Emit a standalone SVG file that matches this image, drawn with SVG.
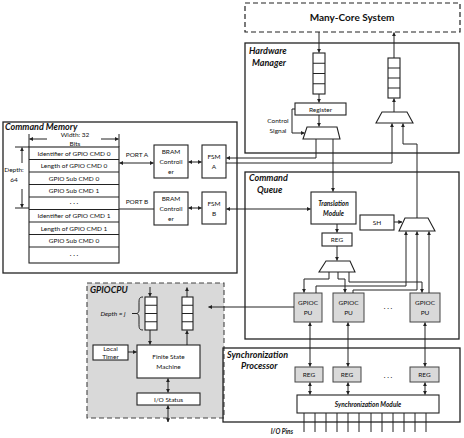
<svg xmlns="http://www.w3.org/2000/svg" width="464" height="438" viewBox="0 0 464 438">
<style>
text{font-family:Lato,"Liberation Sans",sans-serif;fill:#111;text-anchor:middle}
.t{font-size:6.5px}
.tb{font-size:10px;font-weight:bold}
.ti{font-size:9px;font-weight:bold;font-style:italic;text-anchor:start}
.tm{font-size:6.5px;font-weight:bold;font-style:italic}
.box{fill:#fff;stroke:#222;stroke-width:1.1}
.gb{fill:#d9d9d9;stroke:#444;stroke-width:1}
.frame{fill:none;stroke:#222;stroke-width:1.3}
.dash{fill:#fff;stroke:#222;stroke-width:1.2;stroke-dasharray:5,3}
.c{fill:none;stroke:#222;stroke-width:1}
.e{marker-end:url(#ah)}
.b{marker-end:url(#ah);marker-start:url(#ah)}
</style>
<defs>
<marker id="ah" viewBox="0 0 6 6" refX="5.5" refY="3" markerWidth="4" markerHeight="4" orient="auto-start-reverse" markerUnits="userSpaceOnUse"><path d="M0,0 L6,3 L0,6 z" fill="#222"/></marker>
</defs>

<g id="many-core"><rect x="245" y="3" width="215" height="29" class="dash"/><text x="352" y="21" class="tb">Many-Core System</text></g>

<g id="hardware-manager"><rect x="245" y="43" width="214" height="110" class="frame"/><text x="249" y="54" class="ti">Hardware</text><text x="252" y="66" class="ti">Manager</text></g>
<g id="hm-queue-in"><rect x="313" y="53" width="12" height="41" class="box"/><path d="M313,63.25H325M313,73.5H325M313,83.75H325" class="c"/></g>
<g id="hm-queue-out"><rect x="388" y="58" width="12" height="40" class="box"/><path d="M388,68H400M388,78H400M388,88H400" class="c"/></g>
<g id="register"><rect x="295" y="103" width="51" height="12" class="box"/><text x="320.5" y="111.5" class="t">Register</text></g>
<g id="hm-mux-left"><polygon points="307,127 337,127 340,139 303,139" class="box"/></g>
<g id="hm-mux-right"><polygon points="382,112 407,112 413,123 376,123" class="box"/></g>
<g id="control-signal"><text x="278" y="123" class="t">Control</text><text x="278" y="133" class="t">Signal</text></g>

<g id="command-memory"><rect x="3" y="122" width="234" height="151" class="frame"/><text x="5" y="130" class="ti">Command Memory</text></g>
<g id="memory-table">
<rect x="29" y="147" width="90" height="116" class="box"/>
<path d="M29,159.5H119M29,172H119M29,184.5H119M29,197H119M29,209.5H119M29,222H119M29,234.5H119M29,247H119" class="c"/>
<text x="74" y="155.5" class="t">Identifier of GPIO CMD 0</text>
<text x="74" y="168" class="t">Length of GPIO CMD 0</text>
<text x="74" y="180.5" class="t">GPIO Sub CMD 0</text>
<text x="74" y="193" class="t">GPIO Sub CMD 1</text>
<text x="74" y="205" class="t">· · ·</text>
<text x="74" y="218" class="t">Identifier of GPIO CMD 1</text>
<text x="74" y="230.5" class="t">Length of GPIO CMD 1</text>
<text x="74" y="243" class="t">GPIO Sub CMD 0</text>
<text x="74" y="257" class="t">· · ·</text>
</g>
<g id="width-label"><path d="M29,134V147M119,134V147" class="c"/><path d="M47,139H29.5" class="c e"/><path d="M101,139H118.5" class="c e"/><text x="75" y="137" class="t">Width: 32</text><text x="75" y="145.5" class="t">Bits</text></g>
<g id="depth-label"><path d="M15,147H29M15,208H29" class="c"/><path d="M22,163V147.5" class="c e"/><path d="M22,189V207.5" class="c e"/><text x="14" y="172" class="t">Depth:</text><text x="14" y="182" class="t">64</text></g>
<g id="bram-a"><rect x="154" y="145" width="34" height="33" class="box"/><text x="171" y="154" class="t">BRAM</text><text x="171" y="164" class="t">Controll</text><text x="171" y="174" class="t">er</text></g>
<g id="fsm-a"><rect x="202" y="145" width="24" height="33" class="box"/><text x="214" y="159" class="t">FSM</text><text x="214" y="169" class="t">A</text></g>
<g id="bram-b"><rect x="154" y="192" width="34" height="33" class="box"/><text x="171" y="201" class="t">BRAM</text><text x="171" y="211" class="t">Controll</text><text x="171" y="221" class="t">er</text></g>
<g id="fsm-b"><rect x="202" y="192" width="24" height="32" class="box"/><text x="214" y="206" class="t">FSM</text><text x="214" y="216" class="t">B</text></g>
<g id="port-labels"><text x="137" y="157" class="t">PORT A</text><text x="137" y="204" class="t">PORT B</text></g>

<g id="command-queue"><rect x="245" y="172" width="214" height="167" class="frame"/><text x="249" y="181" class="ti">Command</text><text x="257" y="193" class="ti">Queue</text></g>
<g id="translation-module"><rect x="311" y="192" width="45" height="32" class="box"/><text x="333.5" y="206" class="tm">Translation</text><text x="333.5" y="216" class="tm">Module</text></g>
<g id="reg-cq"><rect x="322" y="233" width="30" height="13" class="box"/><text x="337" y="242" class="t">REG</text></g>
<g id="sh"><rect x="360" y="215" width="34" height="15" class="box"/><text x="377" y="225" class="t">SH</text></g>
<g id="cq-mux-center"><polygon points="326,261 350,261 355,272 319,272" class="box"/></g>
<g id="cq-mux-right"><polygon points="405,218 428,218 435,231 399,231" class="box"/></g>
<g id="gpioc-pu-1"><rect x="294" y="293" width="28" height="29" class="gb"/><text x="308" y="305" class="t">GPIOC</text><text x="308" y="315" class="t">PU</text></g>
<g id="gpioc-pu-2"><rect x="333" y="293" width="31" height="29" class="gb"/><text x="348.5" y="305" class="t">GPIOC</text><text x="348.5" y="315" class="t">PU</text></g>
<g id="gpioc-pu-3"><rect x="410" y="293" width="30" height="29" class="gb"/><text x="425" y="305" class="t">GPIOC</text><text x="425" y="315" class="t">PU</text></g>
<text x="388" y="310" class="t">· · ·</text>

<g id="gpiocpu"><rect x="87" y="283" width="137" height="135" fill="#d9d9d9" stroke="#444" stroke-width="1.1" stroke-dasharray="5,3"/><text x="90" y="293" class="ti">GPIOCPU</text></g>
<g id="gpiocpu-queue-in"><rect x="145" y="297" width="12" height="33" class="box"/><path d="M145,305.25H157M145,313.5H157M145,321.75H157" class="c"/></g>
<g id="gpiocpu-queue-out"><rect x="182" y="297" width="11" height="33" class="box"/><path d="M182,305.25H193M182,313.5H193M182,321.75H193" class="c"/></g>
<g id="depth-j"><path d="M143,297C139,297 139,299 139,304V310C139,312 138,313 137,313.5C138,314 139,315 139,317V323C139,328 139,330 143,330" class="c"/><path d="M132,313.5H137" class="c"/><text x="113" y="316" class="t" font-style="italic">Depth = j</text></g>
<g id="local-timer"><rect x="93" y="345" width="35" height="15" class="box"/><text x="110.5" y="351" class="t">Local</text><text x="110.5" y="359" class="t">Timer</text></g>
<g id="finite-state-machine"><rect x="137" y="345" width="63" height="33" class="box"/><text x="168.5" y="359" class="t">Finite State</text><text x="168.5" y="369" class="t">Machine</text></g>
<g id="io-status"><rect x="137" y="393" width="63" height="12" class="box"/><text x="168.5" y="401.5" class="t">I/O Status</text></g>

<g id="sync-processor"><rect x="223" y="348" width="237" height="74" class="frame"/><text x="227" y="358" class="ti" font-size="8.5">Synchronization</text><text x="241" y="369" class="ti" font-size="8.5">Processor</text></g>
<g id="reg-sp-1"><rect x="295" y="367" width="28" height="15" class="gb"/><text x="309" y="377" class="t">REG</text></g>
<g id="reg-sp-2"><rect x="333" y="367" width="28" height="15" class="gb"/><text x="347" y="377" class="t">REG</text></g>
<g id="reg-sp-3"><rect x="410" y="367" width="29" height="15" class="gb"/><text x="424.5" y="377" class="t">REG</text></g>
<text x="388" y="379" class="t">· · ·</text>
<g id="sync-module"><rect x="297" y="395" width="142" height="18" class="box"/><text x="368" y="406.5" class="tm">Synchronization Module</text></g>
<text x="282" y="434" class="tm">I/O Pins</text>

<g id="connectors">
<path d="M319,32V52.5" class="c e"/>
<path d="M394,58V32.5" class="c e"/>
<path d="M319,94V102.5" class="c e"/>
<path d="M319,115V126.5" class="c e"/>
<path d="M295,109H292V133H304.5" class="c e"/>
<path d="M394,112V98.5" class="c e"/>
<path d="M316,139V158H226.5" class="c e"/>
<path d="M226,163H392V123.5" class="c e"/>
<path d="M333,139V191.5" class="c e"/>
<path d="M119.5,163H153.5" class="c b"/>
<path d="M119,209H154" class="c"/>
<path d="M188.5,162H201.5" class="c b"/>
<path d="M188.5,208H201.5" class="c b"/>
<path d="M226.5,209H310.5" class="c b"/>
<path d="M417,218V144H403V123.5" class="c e"/>
<path d="M394,222H402" class="c e"/>
<path d="M337,224V232.5" class="c e"/>
<path d="M337,246V260.5" class="c e"/>
<path d="M329,272V279H304V292.5" class="c e"/>
<path d="M338,272V279H345V292.5" class="c e"/>
<path d="M349,272V282H422V292.5" class="c e"/>
<path d="M316,293V286H406V231.5" class="c e"/>
<path d="M353,293V290H417V231.5" class="c e"/>
<path d="M429,293V231.5" class="c e"/>
<path d="M294,307H208.5" class="c e"/>
<path d="M310,322.5V366.5" class="c b"/>
<path d="M348,322.5V366.5" class="c b"/>
<path d="M425,322.5V366.5" class="c b"/>
<path d="M310,382.5V394.5" class="c b"/>
<path d="M348,382.5V394.5" class="c b"/>
<path d="M425,382.5V394.5" class="c b"/>
<path d="M304,413V432M315,413V432M326,413V432M337,413V432M348,413V432M359,413V432M371,413V432M382,413V432M393,413V432M404,413V432M415,413V432M426,413V432" class="c"/>
<path d="M150,287V296.5" class="c e"/>
<path d="M187,297V287.5" class="c e"/>
<path d="M150,330V344.5" class="c e"/>
<path d="M187,345V330.5" class="c e"/>
<path d="M128,352H136.5" class="c e"/>
<path d="M168,378.5V392.5" class="c b"/>
<path d="M168,405.5V422" class="c b"/>
</g>
</svg>
